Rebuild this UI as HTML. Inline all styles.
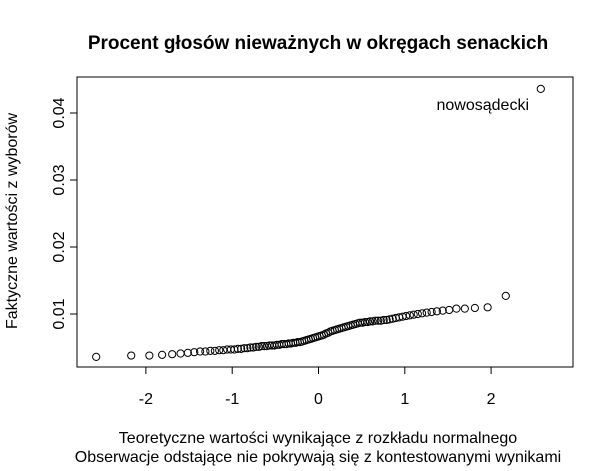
<!DOCTYPE html>
<html><head><meta charset="utf-8"><style>
body{margin:0;background:#fff}
svg text{font-family:"Liberation Sans",Arial,sans-serif;fill:#000}
</style></head><body>
<svg width="600" height="466" viewBox="0 0 600 466">
<text x="318" y="49" text-anchor="middle" font-size="19" font-weight="bold">Procent głosów nieważnych w okręgach senackich</text>
<rect x="77" y="77" width="496" height="290" fill="none" stroke="#000" stroke-width="1"/>
<g id="xaxis"></g>
<g id="yaxis"></g>
<g id="pts"></g>
<text x="529" y="110" text-anchor="end" font-size="16">nowosądecki</text>
<text x="17" y="221" text-anchor="middle" font-size="16" transform="rotate(-90 17 221)">Faktyczne wartości z wyborów</text>
<text x="318" y="443" text-anchor="middle" font-size="16">Teoretyczne wartości wynikające z rozkładu normalnego</text>
<text x="318" y="462" text-anchor="middle" font-size="16">Obserwacje odstające nie pokrywają się z kontestowanymi wynikami</text>
</svg>
<script>
const values=[0.0036,0.0038,0.0038,0.0039,0.0040,0.0041,0.0042,0.0043,0.0044,0.0044,
0.0045,0.0045,0.0046,0.0046,0.0047,0.0047,0.0047,0.0048,0.0048,0.0049,
0.0049,0.0050,0.0050,0.0051,0.0051,0.0052,0.0052,0.0052,0.0053,0.0053,
0.0053,0.0054,0.0054,0.0055,0.0055,0.0055,0.0056,0.0056,0.0057,0.0057,
0.0058,0.0058,0.0059,0.0060,0.0061,0.0062,0.0063,0.0064,0.0065,0.0066,
0.0067,0.0068,0.0069,0.0071,0.0072,0.0074,0.0075,0.0076,0.0077,0.0078,
0.0079,0.0080,0.0081,0.0082,0.0083,0.0084,0.0085,0.0086,0.0087,0.0087,
0.0088,0.0088,0.0089,0.0089,0.0090,0.0090,0.0090,0.0091,0.0091,0.0092,
0.0093,0.0094,0.0095,0.0096,0.0097,0.0098,0.0099,0.0100,0.0101,0.0102,
0.0103,0.0104,0.0105,0.0106,0.0108,0.0108,0.0109,0.0110,0.0127,0.0436];
const xTicks=[-2,-1,0,1,2];
const yTicks=[0.01,0.02,0.03,0.04];
const yTickLabels=["0.01","0.02","0.03","0.04"];
function qnorm(p){const a=[-39.6968302866538,220.946098424521,-275.928510446969,138.357751867269,-30.6647980661472,2.50662827745924],b=[-54.4760987982241,161.585836858041,-155.698979859887,66.8013118877197,-13.2806815528857],c=[-0.00778489400243029,-0.322396458041136,-2.40075827716184,-2.54973253934373,4.37466414146497,2.93816398269878],d=[0.00778469570904146,0.32246712907004,2.445134137143,3.75440866190742];const pl=0.02425;let q,r;
if(p<pl){q=Math.sqrt(-2*Math.log(p));return(((((c[0]*q+c[1])*q+c[2])*q+c[3])*q+c[4])*q+c[5])/((((d[0]*q+d[1])*q+d[2])*q+d[3])*q+1);}
if(p>1-pl){q=Math.sqrt(-2*Math.log(1-p));return-(((((c[0]*q+c[1])*q+c[2])*q+c[3])*q+c[4])*q+c[5])/((((d[0]*q+d[1])*q+d[2])*q+d[3])*q+1);}
q=p-0.5;r=q*q;return(((((a[0]*r+a[1])*r+a[2])*r+a[3])*r+a[4])*r+a[5])*q/(((((b[0]*r+b[1])*r+b[2])*r+b[3])*r+b[4])*r+1);}
const sx=v=>318.5+v*86.3;
const sy=v=>314-(v-0.01)*6700;
const NS="http://www.w3.org/2000/svg";
function mk(t,at,parent){const e=document.createElementNS(NS,t);for(const k in at)e.setAttribute(k,at[k]);parent.appendChild(e);return e;}
const xg=document.getElementById('xaxis'),yg=document.getElementById('yaxis'),pg=document.getElementById('pts');
mk('line',{x1:sx(xTicks[0]),x2:sx(xTicks[xTicks.length-1]),y1:367,y2:367,stroke:'#000'},xg);
xTicks.forEach(t=>{const l=mk('line',{x1:sx(t),x2:sx(t),y1:367,y2:374,stroke:'#000'},xg);


const tx=mk('text',{x:sx(t),y:404,'text-anchor':'middle','font-size':16},xg);tx.textContent=String(t);

});
mk('line',{x1:77,x2:77,y1:sy(yTicks[0]),y2:sy(yTicks[yTicks.length-1]),stroke:'#000'},yg);
yTicks.forEach((t,i)=>{const l=mk('line',{x1:70,x2:77,y1:sy(t),y2:sy(t),stroke:'#000'},yg);


const y=sy(t);const tx=mk('text',{x:64,y:y,'text-anchor':'middle','font-size':16,transform:`rotate(-90 64 ${y})`},yg);tx.textContent=yTickLabels[i];

});
const n=values.length;
values.forEach((v,i)=>{const th=qnorm((i+1-0.5)/n);const c=mk('circle',{cx:sx(th),cy:sy(v),r:3.6,fill:'none',stroke:'#000','stroke-width':1},pg);

});
</script>
</body></html>
